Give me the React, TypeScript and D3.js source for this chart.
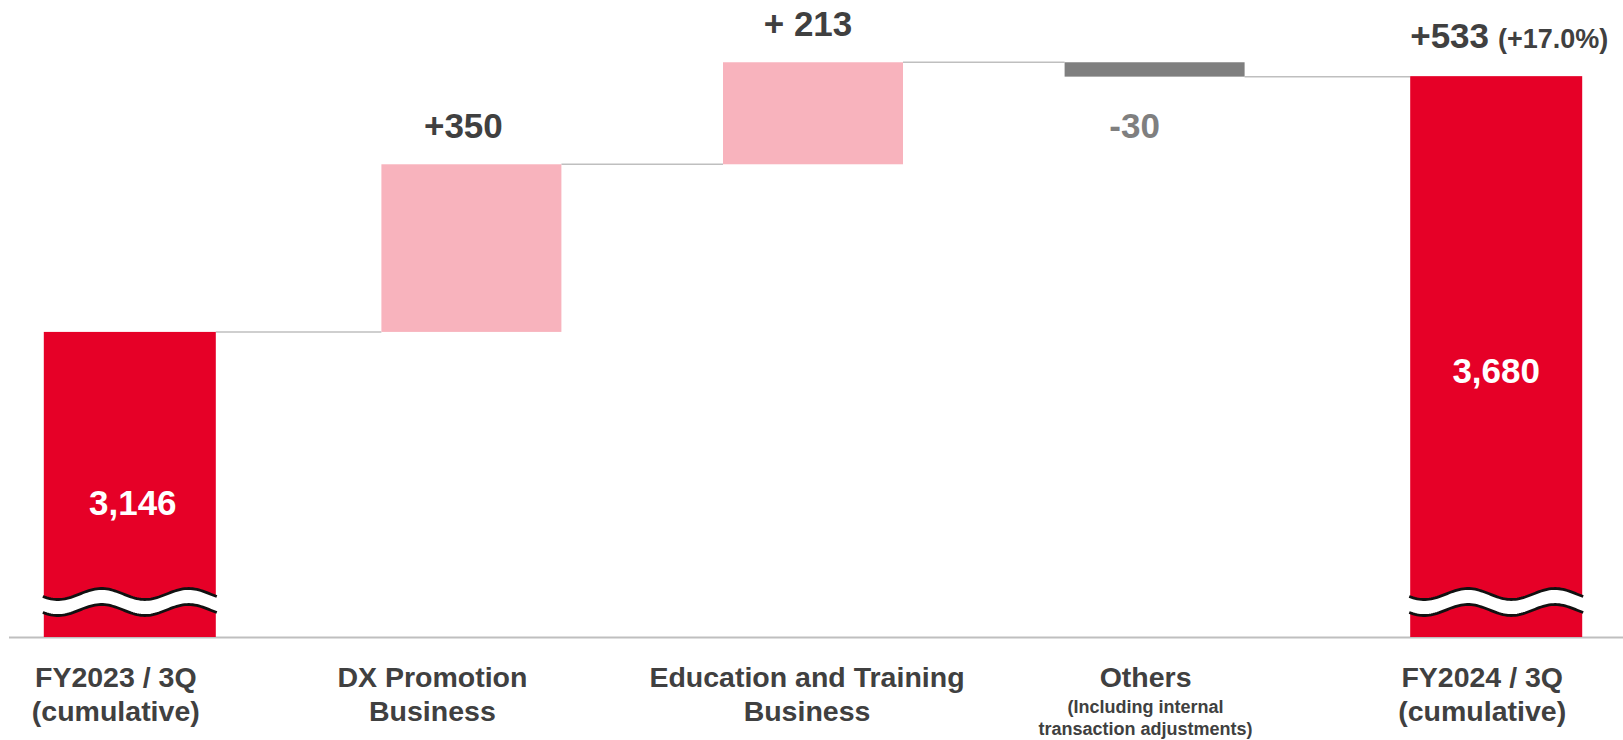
import React from "react";
import * as d3 from "d3";

// ---- data ----
const categories = ["FY2023", "DX", "Education", "Others", "FY2024"];
const categoryLines = [
  ["FY2023 / 3Q", "(cumulative)"],
  ["DX Promotion", "Business"],
  ["Education and Training", "Business"],
  ["Others"],
  ["FY2024 / 3Q", "(cumulative)"],
];
const categorySubLines = [[], [], [], ["(Including internal", "transaction adjustments)"], []];
const values = [3146, 350, 213, -30, 3680];
const kinds = ["total", "delta", "delta", "delta", "total"];
const valueLabels = ["3,146", "+350", "+ 213", "-30", "3,680"];
const totalChangeLabel = "+533";
const totalChangePct = "(+17.0%)";

// ---- styling / layout ----
const W = 1623;
const H = 740;
const BASE_Y = 637;
const RED = "#E60027";
const PINK = "#F8B3BD";
const GRAY = "#7F7F7F";
const TEXT = "#404040";
const LINE = "#BFBFBF";
const FONT = "Arial, 'Liberation Sans', Helvetica, sans-serif";
const catLabelDx = [-14, -39, -6, -9, -14];
const valueLabelDx = [3, -8, -5, -20, 0];
const totalLabelDy = [31, 26];

export default function App() {
  const x = d3.scaleBand<string>().domain(categories).range([-41, 1667]).padding(0);
  const step = x.step();
  const cx = (c: string) => (x(c) as number) + step / 2;
  const y = d3.scaleLinear().domain([2509, 3839]).range([BASE_Y, 0]);

  // compute waterfall segments
  let running = 0;
  const segs = values.map((v, i) => {
    const c = categories[i];
    if (kinds[i] === "total") {
      running = v;
      return { c, i, lo: y.domain()[0], hi: v, from: v, to: v, kind: "total", v };
    }
    const from = running;
    const to = running + v;
    running = to;
    return { c, i, lo: Math.min(from, to), hi: Math.max(from, to), from, to, kind: v >= 0 ? "up" : "down", v };
  });

  const barW = (k: string) => (k === "total" ? 172 : 180);

  const wavePath = (x0: number, x1: number, yc: number, offset: number) => {
    const pts: [number, number][] = [];
    const period = (x1 - x0) / 2;
    for (let xx = x0; xx <= x1 + 0.01; xx += 2) {
      pts.push([xx, yc + offset + 5.5 * Math.sin(((xx - x0) / period) * 2 * Math.PI + Math.PI * 0.15)]);
    }
    return pts;
  };

  const line = d3.line();
  let totalIdx = 0;

  return (
    <svg
      width={W}
      height={H}
      style={{ position: "absolute", left: 0, top: 0, background: "#fff" }}
      fontFamily={FONT}
    >
      {/* baseline */}
      <line x1={9} x2={W} y1={BASE_Y + 0.5} y2={BASE_Y + 0.5} stroke={LINE} strokeWidth={2} />

      {/* connectors */}
      {segs.slice(0, -1).map((s, i) => {
        const next = segs[i + 1];
        const level = s.kind === "total" ? s.hi : s.to;
        const xa = cx(s.c) + barW(s.kind) / 2;
        const xb = cx(next.c) - barW(next.kind) / 2;
        return (
          <line key={"c" + i} x1={xa} x2={xb} y1={y(level)} y2={y(level)} stroke={LINE} strokeWidth={1.5} />
        );
      })}

      {/* bars */}
      {segs.map((s) => {
        const w = barW(s.kind);
        const fill = s.kind === "total" ? RED : s.kind === "up" ? PINK : GRAY;
        return (
          <rect
            key={"b" + s.i}
            x={cx(s.c) - w / 2}
            y={y(s.hi)}
            width={w}
            height={y(s.lo) - y(s.hi)}
            fill={fill}
          />
        );
      })}

      {/* axis break waves on total bars */}
      {segs
        .filter((s) => s.kind === "total")
        .map((s) => {
          const w = barW(s.kind);
          const x0 = cx(s.c) - w / 2 - 1;
          const x1 = cx(s.c) + w / 2 + 1;
          const yc = 602;
          const top = wavePath(x0, x1, yc, -8);
          const bot = wavePath(x0, x1, yc, 8);
          const area = [...top, ...bot.slice().reverse()];
          return (
            <g key={"w" + s.i}>
              <path d={(line(area) || "") + "Z"} fill="#fff" />
              <path d={line(top) || ""} fill="none" stroke="#111" strokeWidth={2.8} />
              <path d={line(bot) || ""} fill="none" stroke="#111" strokeWidth={2.8} />
            </g>
          );
        })}

      {/* value labels */}
      {segs.map((s) => {
        const xc = cx(s.c) + valueLabelDx[s.i];
        if (s.kind === "total") {
          const dy = totalLabelDy[totalIdx++];
          return (
            <text
              key={"v" + s.i}
              x={xc}
              y={(y(s.hi) + y(s.lo)) / 2 + dy}
              textAnchor="middle"
              fill="#fff"
              fontWeight="bold"
              fontSize={35}
            >
              {valueLabels[s.i]}
            </text>
          );
        }
        if (s.kind === "up") {
          return (
            <text
              key={"v" + s.i}
              x={xc}
              y={y(s.hi) - 26.5}
              textAnchor="middle"
              fill={TEXT}
              fontWeight="bold"
              fontSize={35}
            >
              {valueLabels[s.i]}
            </text>
          );
        }
        return (
          <text
            key={"v" + s.i}
            x={xc}
            y={y(s.lo) + 61}
            textAnchor="middle"
            fill={GRAY}
            fontWeight="bold"
            fontSize={35}
          >
            {valueLabels[s.i]}
          </text>
        );
      })}

      {/* total change label */}
      {(() => {
        const last = segs[segs.length - 1];
        const xl = cx(last.c) - barW(last.kind) / 2;
        return (
          <text x={xl} y={y(last.hi) - 28} fill={TEXT} fontWeight="bold">
            <tspan fontSize={35}>{totalChangeLabel}</tspan>
            <tspan fontSize={27} dx={9}>{totalChangePct}</tspan>
          </text>
        );
      })()}

      {/* category labels */}
      {categories.map((c, i) => {
        const xc = cx(c) + catLabelDx[i];
        return (
          <g key={"l" + i}>
            <text x={xc} y={687} textAnchor="middle" fill={TEXT} fontWeight="bold" fontSize={28.5}>
              {categoryLines[i].map((t, j) => (
                <tspan key={j} x={xc} dy={j === 0 ? 0 : 34}>
                  {t}
                </tspan>
              ))}
            </text>
            {categorySubLines[i].length > 0 && (
              <text x={xc} y={713} textAnchor="middle" fill={TEXT} fontWeight="bold" fontSize={18}>
                {categorySubLines[i].map((t, j) => (
                  <tspan key={j} x={xc} dy={j === 0 ? 0 : 22}>
                    {t}
                  </tspan>
                ))}
              </text>
            )}
          </g>
        );
      })}
    </svg>
  );
}
